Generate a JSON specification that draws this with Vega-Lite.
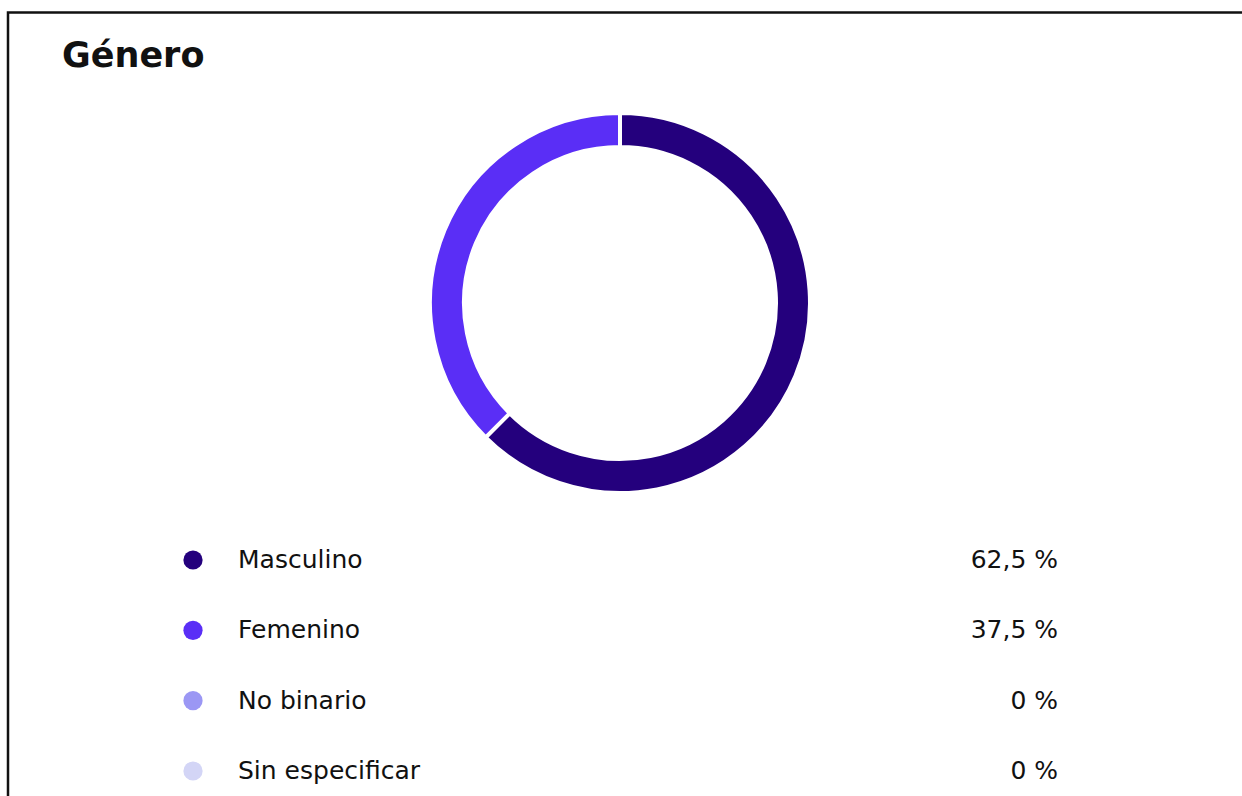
{
  "$schema": "https://vega.github.io/schema/vega-lite/v6.json",
  "autosize": {"type": "none"},
  "padding": {"left": 8, "top": 12.5, "right": 0, "bottom": 0},
  "width": 1245,
  "height": 800,
  "background": "white",
  "config": {
    "view": {"stroke": "#111111", "strokeWidth": 2.5},
    "font": "DejaVu Sans"
  },
  "title": {
    "text": "Género",
    "orient": "top",
    "anchor": "start",
    "frame": "group",
    "baseline": "alphabetic",
    "offset": -89,
    "dx": 54,
    "font": "DejaVu Sans",
    "fontSize": 35,
    "fontWeight": "bold",
    "color": "#111111"
  },
  "data": {
    "values": [
      {"genero": "Masculino", "valor": 62.5, "etiqueta": "62,5 %", "orden": 1},
      {"genero": "Femenino", "valor": 37.5, "etiqueta": "37,5 %", "orden": 2},
      {"genero": "No binario", "valor": 0, "etiqueta": "0 %", "orden": 3},
      {"genero": "Sin especificar", "valor": 0, "etiqueta": "0 %", "orden": 4}
    ]
  },
  "resolve": {"scale": {"y": "independent"}},
  "layer": [
    {
      "transform": [{"filter": "datum.valor > 0"}],
      "mark": {"type": "arc", "outerRadius": 190, "innerRadius": 156, "stroke": "white", "strokeWidth": 4, "x": 612, "y": 290.5},
      "encoding": {
        "theta": {"field": "valor", "type": "quantitative", "stack": true},
        "order": {"field": "orden", "type": "quantitative"},
        "color": {
          "field": "genero", "type": "nominal", "legend": null,
          "scale": {"domain": ["Masculino", "Femenino", "No binario", "Sin especificar"], "range": ["#24007d", "#5a2ef6", "#9b97f4", "#d3d5f6"]}
        }
      }
    },
    {
      "layer": [
        {
          "mark": {"type": "circle", "opacity": 1},
          "encoding": {
            "x": {"value": 185},
            "y": {"field": "genero", "type": "nominal", "sort": ["Masculino", "Femenino", "No binario", "Sin especificar"], "axis": null, "scale": {"type": "point", "range": [547.5, 758.5], "padding": 0}},
            "size": {"value": 370},
            "color": {"field": "genero", "type": "nominal", "legend": null}
          }
        },
        {
          "mark": {"type": "text", "align": "left", "baseline": "middle", "fontSize": 25, "color": "#111111", "font": "DejaVu Sans"},
          "encoding": {
            "x": {"value": 230},
            "y": {"field": "genero", "type": "nominal", "sort": ["Masculino", "Femenino", "No binario", "Sin especificar"], "axis": null, "scale": {"type": "point", "range": [547.5, 758.5], "padding": 0}},
            "text": {"field": "genero"}
          }
        },
        {
          "mark": {"type": "text", "align": "right", "baseline": "middle", "fontSize": 25, "color": "#111111", "font": "DejaVu Sans"},
          "encoding": {
            "x": {"value": 1050},
            "y": {"field": "genero", "type": "nominal", "sort": ["Masculino", "Femenino", "No binario", "Sin especificar"], "axis": null, "scale": {"type": "point", "range": [547.5, 758.5], "padding": 0}},
            "text": {"field": "etiqueta"}
          }
        }
      ]
    }
  ]
}
